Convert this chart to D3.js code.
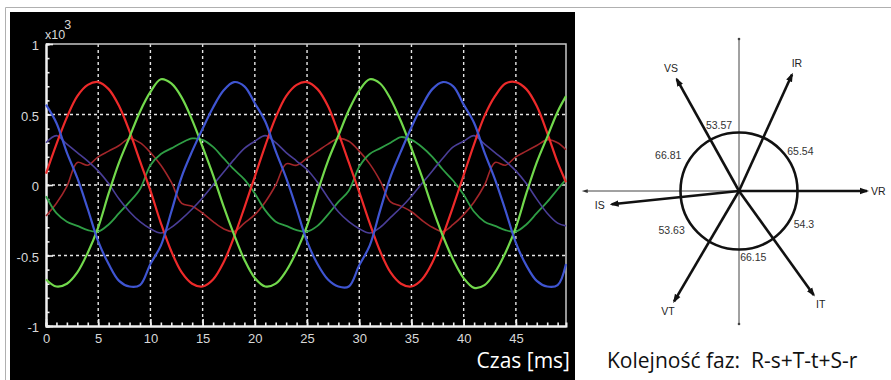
<!DOCTYPE html>
<html>
<head>
<meta charset="utf-8" />
<title>Przebiegi napięć i prądów, wykres wskazowy</title>
<script src="https://cdn.jsdelivr.net/npm/d3@7"></script>
<style>
  body { margin: 0; background: #fff; }
  svg { display: block; }
</style>
</head>
<body>
<svg id="chart" width="891" height="380"></svg>
<script>
// time samples [ms]
const timeMs = [0, 1, 2, 3, 4, 5, 6, 7, 8, 9, 10, 11, 12, 13, 14, 15, 16, 17, 18, 19,
  20, 21, 22, 23, 24, 25, 26, 27, 28, 29, 30, 31, 32, 33, 34, 35, 36, 37, 38, 39,
  40, 41, 42, 43, 44, 45, 46, 47, 48, 49, 49.8];

// voltages (x10^3)
const vRed = [0.08, 0.29, 0.48, 0.63, 0.71, 0.73, 0.68, 0.56, 0.38, 0.17, -0.04, -0.27, -0.47, -0.62, -0.70, -0.72, -0.67, -0.55, -0.37, -0.16,
  0.06, 0.28, 0.48, 0.63, 0.71, 0.73, 0.68, 0.56, 0.37, 0.16, -0.05, -0.27, -0.47, -0.62, -0.70, -0.72, -0.67, -0.55, -0.36, -0.15,
  0.07, 0.29, 0.49, 0.63, 0.72, 0.73, 0.68, 0.56, 0.37, 0.16, 0.02];
const vGreen = [-0.67, -0.72, -0.70, -0.62, -0.48, -0.30, -0.06, 0.16, 0.34, 0.52, 0.66, 0.75, 0.72, 0.62, 0.46, 0.27, 0.07, -0.15, -0.35, -0.53,
  -0.66, -0.72, -0.70, -0.61, -0.47, -0.29, -0.05, 0.17, 0.35, 0.53, 0.67, 0.75, 0.72, 0.61, 0.45, 0.26, 0.06, -0.16, -0.36, -0.53,
  -0.66, -0.73, -0.71, -0.62, -0.48, -0.30, -0.06, 0.16, 0.34, 0.52, 0.63];
const vBlue = [0.57, 0.44, 0.23, 0.05, -0.17, -0.40, -0.56, -0.68, -0.72, -0.71, -0.56, -0.43, -0.19, 0.06, 0.24, 0.40, 0.55, 0.67, 0.73, 0.70,
  0.58, 0.45, 0.24, 0.05, -0.17, -0.40, -0.56, -0.67, -0.72, -0.72, -0.57, -0.43, -0.18, 0.06, 0.24, 0.41, 0.56, 0.68, 0.73, 0.70,
  0.57, 0.44, 0.23, 0.04, -0.18, -0.41, -0.57, -0.68, -0.72, -0.71, -0.56];

// currents (x10^3)
const iRed = [-0.22, -0.13, -0.01, 0.16, 0.14, 0.20, 0.24, 0.28, 0.33, 0.30, 0.23, 0.14, 0.02, -0.13, -0.15, -0.20, -0.26, -0.31, -0.33, -0.27,
  -0.21, -0.12, 0.00, 0.15, 0.14, 0.19, 0.24, 0.29, 0.33, 0.31, 0.24, 0.15, 0.03, -0.12, -0.15, -0.19, -0.25, -0.30, -0.33, -0.28,
  -0.21, -0.12, 0.00, 0.16, 0.14, 0.20, 0.24, 0.28, 0.32, 0.30, 0.25];
const iGreen = [-0.08, -0.20, -0.26, -0.29, -0.32, -0.33, -0.28, -0.20, -0.12, -0.03, 0.14, 0.22, 0.26, 0.30, 0.33, 0.32, 0.27, 0.19, 0.11, 0.04,
  -0.06, -0.18, -0.26, -0.29, -0.32, -0.33, -0.29, -0.21, -0.12, -0.04, 0.13, 0.22, 0.26, 0.30, 0.34, 0.32, 0.27, 0.20, 0.11, 0.03,
  -0.07, -0.19, -0.26, -0.29, -0.32, -0.33, -0.28, -0.20, -0.12, -0.03, 0.04];
const iBlue = [0.30, 0.35, 0.29, 0.23, 0.17, 0.10, 0.01, -0.10, -0.19, -0.26, -0.31, -0.34, -0.30, -0.24, -0.17, -0.09, 0.00, 0.09, 0.18, 0.26,
  0.31, 0.35, 0.30, 0.23, 0.17, 0.11, 0.02, -0.09, -0.19, -0.26, -0.31, -0.34, -0.30, -0.23, -0.16, -0.08, 0.01, 0.10, 0.19, 0.27,
  0.31, 0.35, 0.29, 0.23, 0.17, 0.10, 0.01, -0.10, -0.20, -0.27, -0.29];

const xMajor = [0, 5, 10, 15, 20, 25, 30, 35, 40, 45];
const yMajor = [-1, -0.5, 0, 0.5, 1];
const yLabels = ["-1", "-0.5", "0", "0.5", "1"];

// phasor diagram
const phasorNames = ["VR", "IR", "VS", "IS", "VT", "IT"];
const phasorMag = [1, 1, 1, 1, 1, 1];
const angleGaps = [65.54, 53.57, 66.81, 53.63, 66.15, 54.3]; // degrees between consecutive phasors

const svg = d3.select("#chart");

// page frame + black scope panel
svg.append("path").attr("d", "M5.5,380V7.5H891").attr("fill", "none").attr("stroke", "#b0b0b0");
svg.append("rect").attr("x", 10).attr("y", 12).attr("width", 565).attr("height", 368).attr("fill", "#000");

const x = d3.scaleLinear().domain([0, 49.8]).range([46, 566]);
const y = d3.scaleLinear().domain([-1, 1]).range([326, 44]);

// dashed grid
const grid = svg.append("g").attr("stroke", "#e6e6e6").attr("stroke-width", 1.4).attr("stroke-dasharray", "3,3");
grid.selectAll(".gx").data(xMajor.filter(d => d > 0)).join("line")
  .attr("x1", d => x(d)).attr("x2", d => x(d)).attr("y1", y(1)).attr("y2", y(-1));
grid.selectAll(".gy").data(yMajor.filter(d => d > -1 && d < 1)).join("line")
  .attr("x1", x(0)).attr("x2", x(49.8)).attr("y1", d => y(d)).attr("y2", d => y(d));

// frame top/right
svg.append("path").attr("d", `M${x(0)},${y(1)}H${x(49.8)}V${y(-1)}`)
  .attr("fill", "none").attr("stroke", "#c8c8c8").attr("stroke-width", 1.5);

// axes
const tickFont = "'Liberation Sans', Arial, sans-serif";
const xMinor = svg.append("g").attr("transform", `translate(0,${y(-1)})`)
  .call(d3.axisBottom(x).tickValues(d3.range(0, 50)).tickSize(-3.5).tickFormat(""));
const xAx = svg.append("g").attr("transform", `translate(0,${y(-1)})`)
  .call(d3.axisBottom(x).tickValues(xMajor).tickSizeInner(-7).tickSizeOuter(0).tickPadding(7.5));
const yMinor = svg.append("g").attr("transform", `translate(${x(0)},0)`)
  .call(d3.axisLeft(y).tickValues(d3.range(-10, 11).map(d => d / 10)).tickSize(-3.5).tickFormat(""));
const yAx = svg.append("g").attr("transform", `translate(${x(0)},0)`)
  .call(d3.axisLeft(y).tickValues(yMajor).tickSizeInner(-7).tickSizeOuter(0).tickPadding(7)
    .tickFormat((d, i) => yLabels[i]));
[xMinor, xAx, yMinor, yAx].forEach(g => {
  g.selectAll("path.domain").attr("stroke", "#f0f0f0").attr("stroke-width", 2);
  g.selectAll("line").attr("stroke", "#f0f0f0").attr("stroke-width", 1.6);
  g.selectAll("text").attr("fill", "#d8d8d8").attr("font-family", tickFont).attr("font-size", 13);
});
yAx.selectAll("text").attr("dy", "0.45em");

// x10^3 multiplier
const mult = svg.append("text").attr("x", 45).attr("y", 39)
  .attr("fill", "#d8d8d8").attr("font-family", tickFont).attr("font-size", 12.5);
mult.append("tspan").text("x10");
mult.append("tspan").attr("dy", -10).attr("dx", -1).text("3");

// waveforms
const series = [
  { v: iRed, c: "#a2262a", w: 1.6 },
  { v: iGreen, c: "#2f9e45", w: 1.8 },
  { v: iBlue, c: "#4a3e98", w: 1.6 },
  { v: vRed, c: "#ee2a2a", w: 2.2 },
  { v: vGreen, c: "#72d94c", w: 2.2 },
  { v: vBlue, c: "#3f55d2", w: 2.2 }
];
const line = d3.line().x((d, i) => x(timeMs[i])).y(d => y(d)).curve(d3.curveCatmullRom.alpha(0.5));
svg.append("g").selectAll("path").data(series).join("path")
  .attr("d", s => line(s.v)).attr("fill", "none")
  .attr("stroke", s => s.c).attr("stroke-width", s => s.w).attr("stroke-linejoin", "round");

svg.append("text").attr("x", 570).attr("y", 368).attr("text-anchor", "end")
  .attr("fill", "#fff").attr("font-family", "'Open Sans', sans-serif").attr("font-size", 21)
  .text("Czas [ms]");

// ---- phasor diagram ----
const cx = 739, cy = 191;
const r = d3.scaleLinear().domain([0, 1]).range([0, 128]);
const angles = phasorNames.map((d, i) => d3.sum(angleGaps.slice(0, i)));
const rad = a => a * Math.PI / 180;
const px = (a, rr) => cx + rr * Math.cos(rad(a));
const py = (a, rr) => cy - rr * Math.sin(rad(a));

const defs = svg.append("defs");
defs.append("marker").attr("id", "arr").attr("viewBox", "0 -4 9 8")
  .attr("refX", 7).attr("refY", 0).attr("markerWidth", 9).attr("markerHeight", 8)
  .attr("markerUnits", "userSpaceOnUse").attr("orient", "auto")
  .append("path").attr("d", "M0,-3.2L9,0L0,3.2Z").attr("fill", "#111");
defs.append("marker").attr("id", "arrThin").attr("viewBox", "0 -4 8 8")
  .attr("refX", 1).attr("refY", 0).attr("markerWidth", 7).attr("markerHeight", 6)
  .attr("markerUnits", "userSpaceOnUse").attr("orient", "auto")
  .append("path").attr("d", "M0,-2.5L8,0L0,2.5Z").attr("fill", "#333");

const ph = svg.append("g");
// reference axes
ph.append("line").attr("x1", cx).attr("x2", cx).attr("y1", cy - 152).attr("y2", cy + 133)
  .attr("stroke", "#444").attr("stroke-width", 1);
ph.append("line").attr("x1", cx).attr("x2", cx - 152).attr("y1", cy).attr("y2", cy)
  .attr("stroke", "#444").attr("stroke-width", 1).attr("marker-end", "url(#arrThin)");
ph.selectAll(".dot").data([cy - 152, cy + 133]).join("circle")
  .attr("cx", cx).attr("cy", d => d).attr("r", 1.3).attr("fill", "#444");

ph.append("circle").attr("cx", cx).attr("cy", cy).attr("r", 58.5)
  .attr("fill", "none").attr("stroke", "#111").attr("stroke-width", 2.6);

ph.selectAll(".vec").data(phasorNames).join("line")
  .attr("x1", cx).attr("y1", cy)
  .attr("x2", (d, i) => px(angles[i], r(phasorMag[i])))
  .attr("y2", (d, i) => py(angles[i], r(phasorMag[i])))
  .attr("stroke", "#111").attr("stroke-width", 2.6).attr("marker-end", "url(#arr)");

const smallFont = "'Liberation Sans', Arial, sans-serif";
ph.selectAll(".name").data(phasorNames).join("text")
  .attr("x", (d, i) => i === 0 ? px(0, r(phasorMag[0]) + 4) : px(angles[i], r(phasorMag[i]) + 12))
  .attr("y", (d, i) => py(angles[i], r(phasorMag[i]) + 12))
  .attr("text-anchor", (d, i) => i === 0 ? "start" : "middle").attr("dy", "0.35em")
  .attr("font-family", smallFont).attr("font-size", 10.5).attr("fill", "#222")
  .text(d => d);

// angle labels sit between phasors; the two next to the vertical axis are pushed aside
const labelShift = [[0, 0], [-17, 7], [-6, -2], [-6, 0], [11, -7], [0, 0]];
ph.selectAll(".ang").data(angleGaps).join("text")
  .attr("x", (d, i) => px(angles[i] + d / 2, 73) + labelShift[i][0])
  .attr("y", (d, i) => py(angles[i] + d / 2, 73) + labelShift[i][1])
  .attr("text-anchor", "middle").attr("dy", "0.35em")
  .attr("font-family", smallFont).attr("font-size", 10.5).attr("fill", "#333")
  .text(d => d);

svg.append("text").attr("x", 607).attr("y", 368)
  .attr("fill", "#111").attr("font-family", "'Open Sans', sans-serif").attr("font-size", 21)
  .style("white-space", "pre")
  .text("Kolejność faz:  R-s+T-t+S-r");
</script>
</body>
</html>
